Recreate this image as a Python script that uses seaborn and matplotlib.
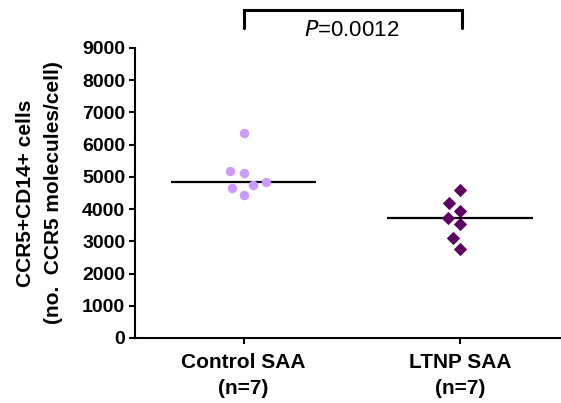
import numpy as np
import pandas as pd
import matplotlib
matplotlib.use("Agg")
import matplotlib.pyplot as plt
import seaborn as sns

# CCR5 molecules per CCR5+CD14+ cell, one value per subject
groups = ["Control SAA", "LTNP SAA"]
group_labels = ["Control SAA\n(n=7)", "LTNP SAA\n(n=7)"]
control_values = [6350, 5180, 5110, 4840, 4740, 4660, 4440]
ltnp_values = [4590, 4200, 3950, 3720, 3530, 3090, 2750]
p_value_text = "0.0012"
y_ticks = [0, 1000, 2000, 3000, 4000, 5000, 6000, 7000, 8000, 9000]

df = pd.DataFrame({
    "group": [groups[0]] * len(control_values) + [groups[1]] * len(ltnp_values),
    "value": control_values + ltnp_values,
})

sns.set_style("ticks")
plt.rcParams["font.family"] = ["Liberation Sans", "DejaVu Sans"]
for key in ["text.color", "axes.labelcolor", "xtick.color", "ytick.color",
            "axes.edgecolor"]:
    plt.rcParams[key] = "black"

fig = plt.figure(figsize=(5.61, 4.03), dpi=100)
ax = fig.add_axes([0.2406, 0.1613, 0.757, 0.7197])

palette = {groups[0]: "#cc99ff", groups[1]: "#5c0062"}
markers = {groups[0]: "o", groups[1]: "D"}
for g in groups:
    sub = df[df["group"] == g]
    # lay the swarm out with a generous spacing between columns
    sns.swarmplot(data=sub, x="group", y="value", order=groups, ax=ax,
                  color=palette[g], marker=markers[g], size=9.4,
                  linewidth=0, zorder=3)

ax.set_xlim(-0.502, 1.46)
ax.set_ylim(0, 9000)

# fix the swarm positions, then draw the dots at their final size
fig.canvas.draw()
for coll in ax.collections:
    if "draw" in coll.__dict__:
        del coll.draw
    coll.set_sizes([6.8 ** 2])

# median line for each group
for i, vals in enumerate([control_values, ltnp_values]):
    med = np.median(vals)
    ax.hlines(med, i - 0.336, i + 0.336, color="black", lw=1.6, zorder=2)

ax.set_yticks(y_ticks)
ax.set_yticklabels([str(t) for t in y_ticks], fontsize=14, fontweight="bold")
ax.set_xticks([0, 1])
ax.set_xticklabels(group_labels, fontsize=15, fontweight="bold", linespacing=1.45)
ax.set_xlabel("")
ax.set_ylabel("CCR5+CD14+ cells\n(no.  CCR5 molecules/cell)", fontsize=15,
              fontweight="bold", linespacing=1.6, labelpad=14)

for side in ["top", "right"]:
    ax.spines[side].set_visible(False)
for side in ["left", "bottom"]:
    ax.spines[side].set_linewidth(1.5)
ax.tick_params(axis="both", width=1.5, length=4, color="black")
ax.tick_params(axis="x", pad=7)
ax.tick_params(axis="y", pad=3)

# significance bracket between the two groups
ax.plot([0, 0, 1.01, 1.01], [9620, 10180, 10180, 9620], color="black",
        lw=2.2, clip_on=False, solid_joinstyle="miter")
ax.text(0.5, 9530, r"$\it{P}$=" + p_value_text, ha="center", va="center",
        fontsize=16)

fig.savefig("out.png", dpi=100)
